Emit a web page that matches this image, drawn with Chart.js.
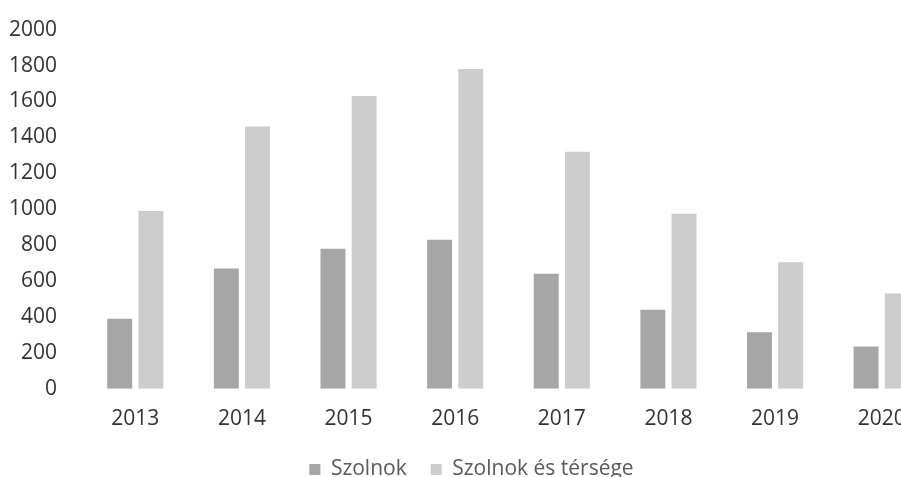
<!DOCTYPE html>
<html>
<head>
<meta charset="utf-8">
<script src="https://cdn.jsdelivr.net/npm/chart.js@4"></script>
<style>
  html, body { margin: 0; padding: 0; background: #fff; overflow: hidden; }
  #wrap { width: 935px; height: 477px; position: relative; }
</style>
</head>
<body>
<div id="wrap"><canvas id="chart"></canvas></div>
<script>
const years = ['2013', '2014', '2015', '2016', '2017', '2018', '2019', '2020'];
const szolnok = [390, 670, 780, 830, 640, 440, 315, 235];
const szolnokTerseg = [990, 1460, 1630, 1780, 1320, 975, 705, 530];
const yTicks = [0, 200, 400, 600, 800, 1000, 1200, 1400, 1600, 1800, 2000];

const fontFamily = "'Open Sans', sans-serif";

function createChart() {
  const ctx = document.getElementById('chart').getContext('2d');
  return new Chart(ctx, {
    type: 'bar',
    data: {
      labels: years,
      datasets: [{
        label: 'Szolnok',
        data: szolnok,
        backgroundColor: '#a6a6a6',
        barPercentage: 0.8,
        categoryPercentage: 0.585
      }, {
        label: 'Szolnok és térsége',
        data: szolnokTerseg,
        backgroundColor: '#cdcdcd',
        barPercentage: 0.8,
        categoryPercentage: 0.585
      }]
    },
    options: {
      responsive: true,
      maintainAspectRatio: false,
      animation: false,
      layout: { padding: { left: 8, top: -2, right: 0, bottom: -13 } },
      plugins: {
        legend: {
          position: 'bottom',
          labels: {
            color: '#595959',
            font: { family: fontFamily, size: 21 },
            boxWidth: 11,
            boxHeight: 11,
            padding: 24
          }
        },
        tooltip: { enabled: false }
      },
      scales: {
        x: {
          grid: { display: false },
          border: { display: false },
          ticks: {
            color: '#333',
            font: { family: fontFamily, size: 21 },
            padding: 10
          },
          afterFit: (scale) => { scale.height -= 7; }
        },
        y: {
          min: 0,
          max: 2000,
          afterBuildTicks: (axis) => { axis.ticks = yTicks.map(v => ({ value: v })); },
          afterFit: (scale) => { scale.width = 74; },
          grid: { display: false },
          border: { display: false },
          ticks: {
            color: '#333',
            font: { family: fontFamily, size: 21 },
            padding: 17,
            callback: (val) => String(val)
          }
        }
      }
    }
  });
}

document.addEventListener('DOMContentLoaded', () => {
  createChart();
});
</script>
</body>
</html>
